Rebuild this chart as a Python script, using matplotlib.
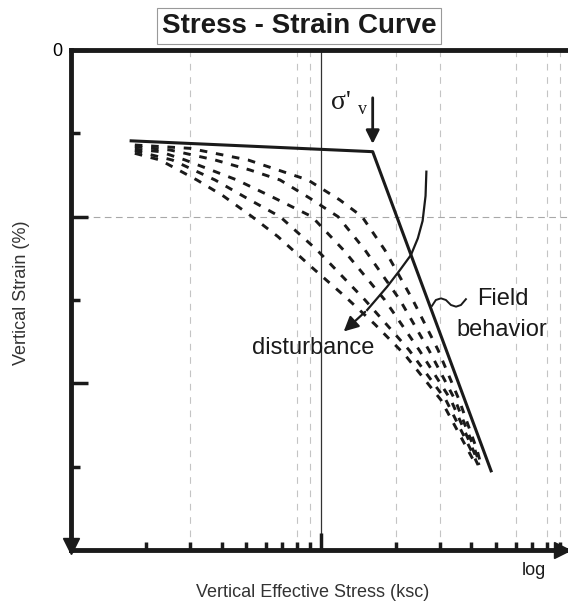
import matplotlib.pyplot as plt
from matplotlib.ticker import NullFormatter

plt.rcParams['font.family'] = ['Liberation Sans', 'DejaVu Sans']

# field (undisturbed) compression line: stress (ksc), strain (%)
field_stress = [1.74, 16.1, 47.9]
field_strain = [1.09, 1.22, 5.05]

# laboratory curves, from least to most disturbed
c1_stress = [1.80, 2.99, 5.11, 8.87, 11.9, 14.6, 18.0, 23.3, 29.4, 35.7, 42.1, 43.7]
c1_strain = [1.14, 1.18, 1.32, 1.56, 1.80, 2.00, 2.40, 3.00, 3.60, 4.20, 4.80, 4.98]
c2_stress = [1.80, 2.49, 3.77, 5.20, 6.86, 9.04, 11.7, 15.0, 20.7, 27.0, 34.4, 41.3, 43.3]
c2_strain = [1.16, 1.20, 1.32, 1.44, 1.56, 1.78, 2.00, 2.40, 3.00, 3.60, 4.20, 4.80, 4.98]
c3_stress = [1.80, 2.27, 2.86, 4.61, 6.55, 9.20, 12.3, 18.0, 24.7, 33.1, 40.6, 42.9]
c3_strain = [1.19, 1.22, 1.32, 1.56, 1.78, 2.00, 2.40, 3.00, 3.60, 4.20, 4.80, 4.98]
c4_stress = [1.80, 2.54, 3.77, 5.20, 6.86, 9.64, 15.0, 22.5, 31.6, 39.8, 42.5]
c4_strain = [1.21, 1.32, 1.56, 1.80, 2.00, 2.40, 3.00, 3.60, 4.20, 4.80, 4.98]
c5_stress = [1.80, 2.27, 3.19, 4.06, 5.30, 6.73, 9.29, 12.5, 16.4, 21.7, 30.2, 38.7, 41.7]
c5_strain = [1.24, 1.32, 1.56, 1.75, 2.00, 2.24, 2.62, 2.96, 3.29, 3.66, 4.20, 4.80, 4.98]

# preconsolidation arrow
sigma_v = 16.1
sigma_arrow_strain = [0.54, 1.16]

# "disturbance" arrow path (last point is the head)
dist_stress = [26.4, 26.2, 25.5, 24.4, 22.9, 20.7, 18.4, 15.3, 12.1]
dist_strain = [1.46, 1.75, 2.05, 2.26, 2.46, 2.64, 2.84, 3.12, 3.40]

# leader squiggle for "Field behavior"
sq_stress = [27.8, 28.8, 30.2, 31.6, 33.1, 34.7, 36.3, 38.0]
sq_strain = [3.07, 3.00, 2.98, 3.00, 3.06, 3.08, 3.06, 2.99]

grid_x = [3, 8, 9, 20, 30, 60, 80, 90]
grid_y = [2]
minor_x = [2, 3, 4, 5, 6, 7, 8, 9, 20, 30, 40, 50, 60, 70, 80, 90]

fig = plt.figure(figsize=(5.68, 6.06), dpi=100)
ax = fig.add_axes([0.125, 0.0924, 0.875, 0.8251])
ax.set_xscale('log')
ax.set_xlim(1, 97.3)
ax.set_ylim(6, 0)

for gx in grid_x:
    ax.axvline(gx, color='#c4c4c4', lw=0.8, linestyle=(0, (6, 6)), zorder=0)
for gy in grid_y:
    ax.axhline(gy, color='#a8a8a8', lw=0.8, linestyle=(0, (6, 4)), zorder=0)
ax.axvline(10, color='#333333', lw=0.9, zorder=1)

for xs, ys in [(c1_stress, c1_strain), (c2_stress, c2_strain), (c3_stress, c3_strain),
               (c4_stress, c4_strain), (c5_stress, c5_strain)]:
    ax.plot(xs, ys, color='#1a1a1a', lw=2.1, linestyle=(0, (2.6, 3)), zorder=2)

ax.plot(field_stress, field_strain, color='#1a1a1a', lw=2.2, zorder=3)

ax.annotate('', xy=(sigma_v, sigma_arrow_strain[1]), xytext=(sigma_v, sigma_arrow_strain[0]),
            arrowprops=dict(arrowstyle='-|>', color='#1a1a1a', lw=2, mutation_scale=20))
ax.text(10.96, 0.63, "σ'", fontsize=20, family=['Liberation Serif', 'DejaVu Serif'],
        ha='left', va='center', color='#1a1a1a')
ax.text(14.06, 0.71, 'v', fontsize=13, family=['Liberation Serif', 'DejaVu Serif'],
        ha='left', va='center', color='#1a1a1a')

ax.plot(dist_stress[:-1], dist_strain[:-1], color='#1a1a1a', lw=1.6, zorder=3)
ax.annotate('', xy=(dist_stress[-1], dist_strain[-1]), xytext=(dist_stress[-2], dist_strain[-2]),
            arrowprops=dict(arrowstyle='-|>', color='#1a1a1a', lw=1.6, mutation_scale=22))

ax.plot(sq_stress, sq_strain, color='#1a1a1a', lw=1.4, zorder=3)
ax.text(42.07, 3.06, 'Field', fontsize=17, ha='left', va='baseline', color='#1a1a1a')
ax.text(34.67, 3.43, 'behavior', fontsize=17, ha='left', va='baseline', color='#1a1a1a')
ax.text(5.32, 3.65, 'disturbance', fontsize=17, ha='left', va='baseline', color='#1a1a1a')

# axes frame
ax.spines['right'].set_visible(False)
for s in ['top', 'left', 'bottom']:
    ax.spines[s].set_linewidth(3.5)
    ax.spines[s].set_color('#1a1a1a')
ax.plot([0], [0.009], marker='v', ms=11, color='#1a1a1a', transform=ax.transAxes, clip_on=False)
ax.plot([0.987], [0], marker='>', ms=11, color='#1a1a1a', transform=ax.transAxes, clip_on=False)

ax.set_xticks([10])
ax.set_xticks(minor_x, minor=True)
ax.xaxis.set_major_formatter(NullFormatter())
ax.xaxis.set_minor_formatter(NullFormatter())
ax.set_yticks([0, 2, 4])
ax.set_yticklabels(['0', '', ''])
ax.set_yticks([1, 3, 5], minor=True)
ax.tick_params(axis='x', which='major', direction='in', length=12, width=2.5, color='#1a1a1a')
ax.tick_params(axis='x', which='minor', direction='in', length=6, width=2.5, color='#1a1a1a')
ax.tick_params(axis='y', which='major', direction='in', length=12.5, width=2.5, labelsize=13,
               pad=6, color='#1a1a1a')
ax.tick_params(axis='y', which='minor', direction='in', length=6.5, width=2.5, color='#1a1a1a')

fig.text(0.5264, 0.9455, 'Stress - Strain Curve', fontsize=20, fontweight='bold', ha='center',
         va='baseline', color='#1a1a1a',
         bbox=dict(boxstyle='square,pad=0.18', fc='white', ec='#999999', lw=0.8))
fig.text(312.7 / 568, 9 / 606, 'Vertical Effective Stress (ksc)', fontsize=13, ha='center',
         va='baseline', color='#333333')
fig.text(21.7 / 568, (606 - 293) / 606, 'Vertical Strain (%)', fontsize=13, rotation=90,
         ha='center', va='center', color='#333333')
fig.text(522 / 568, 31 / 606, 'log', fontsize=13, ha='left', va='baseline', color='#1a1a1a')

fig.savefig('out.png', dpi=100)
